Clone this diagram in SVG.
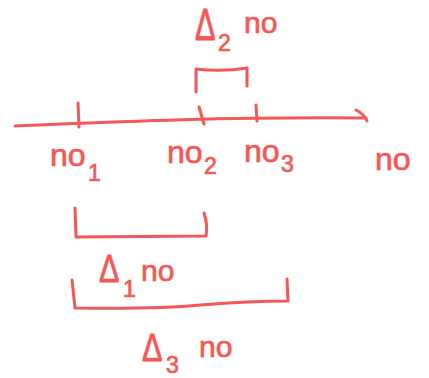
<svg xmlns="http://www.w3.org/2000/svg" width="429" height="378" viewBox="0 0 429 378">
  <style>
    .ink { fill: none; stroke: #f45757; stroke-width: 3; stroke-linecap: round; stroke-linejoin: round; }
    text { font-family: "Liberation Sans", "DejaVu Sans", sans-serif; fill: #f45757; stroke: #f45757; stroke-width: 0.7; }
    .lbl { font-size: 32px; }
    .sm { font-size: 30px; }
    .sub { font-size: 23px; }
    .delta { font-size: 36px; }
  </style>
  <rect width="429" height="378" fill="#ffffff"/>

  <!-- axis with ticks -->
  <g id="axis">
    <path class="ink" d="M15,126 C110,122 210,117 366,118"/>
    <path class="ink" d="M356,110 Q364,114 367,121"/>
    <path class="ink" d="M78,103 L79,127"/>
    <path class="ink" d="M199,107 L204,124"/>
    <path class="ink" d="M256,105 L257,121"/>
  </g>

  <!-- axis labels -->
  <g id="label-m1">
    <text class="lbl" x="50" y="166">no</text>
    <text class="sub" x="88" y="181">1</text>
  </g>
  <g id="label-m2">
    <text class="lbl" x="167" y="163">no</text>
    <text class="sub" x="204" y="174">2</text>
  </g>
  <g id="label-m3">
    <text class="lbl" x="244" y="162">no</text>
    <text class="sub" x="281" y="172">3</text>
  </g>
  <g id="label-m">
    <text class="lbl" x="375" y="170">no</text>
  </g>

  <!-- brackets -->
  <g id="connectors">
    <path class="ink" d="M196,92 L196,69 Q222,72 247,68 L247,86"/>
    <path class="ink" d="M75,208 L76,237 L206,236 Q208,225 204,213"/>
    <path class="ink" d="M72,280 L75,308 Q160,309 200,305 Q250,301 288,301 L287,279"/>
  </g>

  <!-- interval labels; the delta glyphs are stretched taller and narrower -->
  <g id="label-d2">
    <text class="delta" transform="translate(195,40) scale(0.85,1.25)">Δ</text>
    <text class="sub" x="218" y="51">2</text>
    <text class="sm" x="244" y="33">no</text>
  </g>
  <g id="label-d1">
    <text class="delta" transform="translate(99,282) scale(0.85,1.1)">Δ</text>
    <text class="sub" x="123" y="297">1</text>
    <text class="sm" x="141" y="281">no</text>
  </g>
  <g id="label-d3">
    <text class="delta" transform="translate(142,361) scale(0.85,1.1)">Δ</text>
    <text class="sub" x="166" y="373">3</text>
    <text class="sm" x="199" y="357">no</text>
  </g>
</svg>
